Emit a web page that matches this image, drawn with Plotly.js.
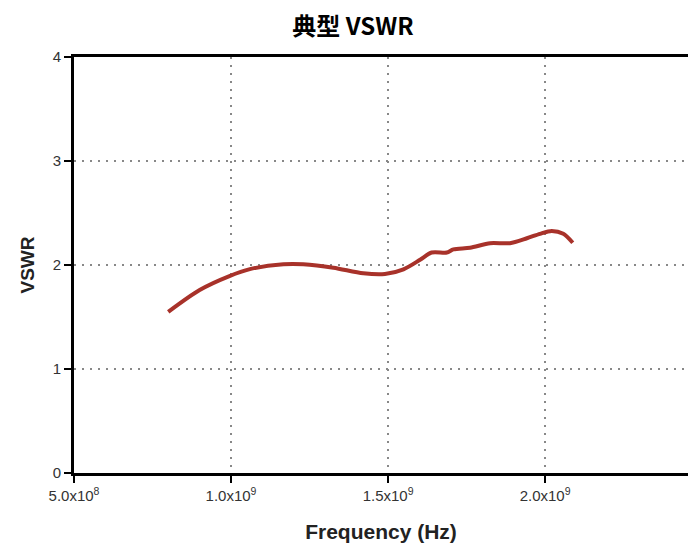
<!DOCTYPE html>
<html>
<head>
<meta charset="utf-8">
<script src="https://cdn.plot.ly/plotly-3.0.1.min.js"></script>
<style>html,body{margin:0;padding:0;background:#fff;}#chart{width:688px;height:547px;}</style>
</head>
<body>
<div id="chart"></div>
<script>
const freq = [8.0e8, 9.0e8, 9.95e8, 1.06e9, 1.167e9, 1.23e9, 1.326e9, 1.421e9, 1.49e9, 1.549e9, 1.602e9, 1.639e9, 1.687e9, 1.708e9, 1.761e9, 1.825e9, 1.888e9, 1.942e9, 1.984e9, 2.021e9, 2.058e9, 2.088e9];
const vswr = [1.55, 1.76, 1.894, 1.96, 2.007, 2.007, 1.974, 1.92, 1.913, 1.958, 2.05, 2.12, 2.12, 2.15, 2.166, 2.21, 2.21, 2.257, 2.30, 2.327, 2.30, 2.214];
const xTickVals = [5e8, 1e9, 1.5e9, 2e9];
const xTickText = ['5.0x10<sup>8</sup>', '1.0x10<sup>9</sup>', '1.5x10<sup>9</sup>', '2.0x10<sup>9</sup>'];
const yTickVals = [0, 1, 2, 3, 4];

const trace = {
  x: freq, y: vswr, type: 'scatter', mode: 'lines',
  line: {color: '#a8322a', width: 4, shape: 'spline', smoothing: 0.8},
  hoverinfo: 'skip'
};
const layout = {
  width: 688, height: 547,
  margin: {l: 74, r: 0, t: 57, b: 74},
  paper_bgcolor: '#fff', plot_bgcolor: '#fff',
  showlegend: false,
  title: {text: '<b>典型 VSWR</b>', x: 0.513, xanchor: 'center', y: 0.951, yanchor: 'middle',
          font: {family: 'Noto Sans CJK SC, Noto Sans, sans-serif', size: 24, color: '#000'}},
  xaxis: {
    range: [5e8, 2.455e9], tickvals: xTickVals, ticktext: xTickText,
    showgrid: true, gridcolor: '#888', griddash: '2px,6px', gridwidth: 1.2,
    showline: true, linecolor: '#000', linewidth: 3, mirror: true,
    ticks: 'outside', ticklen: 7, tickwidth: 1.5, tickcolor: '#000',
    tickfont: {family: 'Liberation Sans, Arial, sans-serif', size: 15, color: '#333'},
    zeroline: false,
    title: {text: '<b>Frequency (Hz)</b>', standoff: 22,
            font: {family: 'Liberation Sans, Arial, sans-serif', size: 21, color: '#222'}}
  },
  yaxis: {
    range: [0, 4], tickvals: yTickVals,
    showgrid: true, gridcolor: '#888', griddash: '2px,6px', gridwidth: 1.2,
    showline: true, linecolor: '#000', linewidth: 3, mirror: false,
    ticks: 'outside', ticklen: 7, tickwidth: 1.5, tickcolor: '#000',
    tickfont: {family: 'Liberation Sans, Arial, sans-serif', size: 15, color: '#333'},
    zeroline: false,
    title: {text: '<b>VSWR</b>', standoff: 14,
            font: {family: 'Liberation Sans, Arial, sans-serif', size: 19, color: '#222'}}
  }
};
Plotly.newPlot('chart', [trace], layout, {displayModeBar: false, staticPlot: true});
</script>
</body>
</html>
